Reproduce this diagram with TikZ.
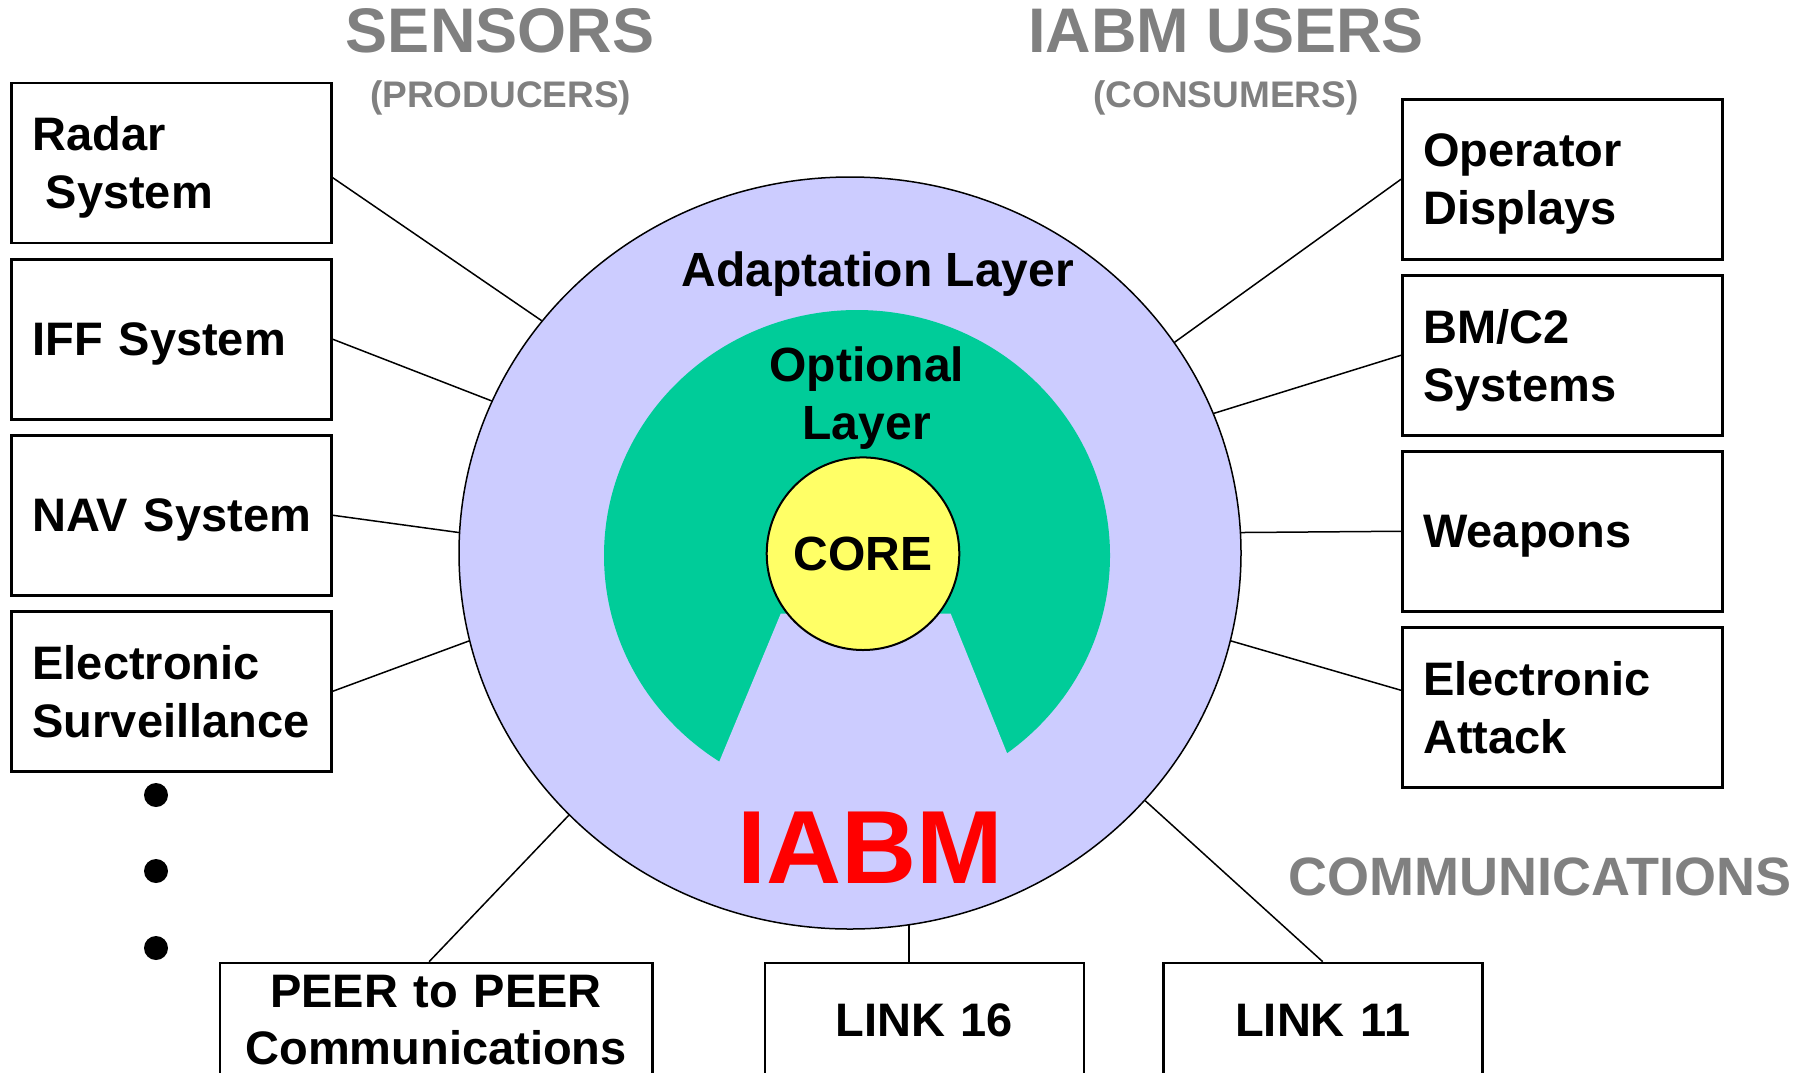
\documentclass[tikz,border=0pt]{standalone}
\usepackage{fontspec}
\setmainfont{Liberation Sans}
\usetikzlibrary{shapes.geometric}
\definecolor{lav}{HTML}{CCCCFF}
\definecolor{grn}{HTML}{00CC99}
\definecolor{yel}{HTML}{FFFF66}
\definecolor{hdr}{HTML}{808080}
\newcommand\myfs[2]{\fontsize{#1}{#2}\selectfont}
\begin{document}
\begin{tikzpicture}[x=1pt,y=-1pt,
  box/.style={draw, line width=2.5pt, minimum width=320pt, minimum height=160pt,
    inner xsep=21pt, inner ysep=0pt, text width=278pt, align=left, text depth=0pt,
    font=\myfs{47}{57.6}\bfseries, anchor=north west},
  two/.style={text depth=57.6pt},
  bbox/.style={box, align=center, minimum height=114pt},
  conn/.style={line width=1.5pt},
  hdr1/.style={text=hdr, font=\myfs{63}{70}\bfseries, anchor=base, inner sep=0pt},
  hdr2/.style={text=hdr, font=\myfs{37}{44}\bfseries, anchor=base, inner sep=0pt},
  lbl/.style={font=\myfs{48}{57.6}\bfseries, inner sep=0pt},
  dot/.style={circle, fill=black, minimum size=24pt, inner sep=0pt}
]
\useasboundingbox (0,0) rectangle (1803,1072);
\clip (0,0) rectangle (1803,1072);

% IABM body
\node[ellipse, draw, fill=lav, line width=1.5pt, minimum width=782pt,
      minimum height=752pt, inner sep=0pt] (iabm) at (850,553) {};
\fill[grn] (857,555.5) ellipse [x radius=253, y radius=245.5];
\fill[lav] (780.7,613.7) -- (950.7,613.7) -- (1034,820) -- (695,820) -- cycle;
\node[circle, draw, fill=yel, line width=2pt, minimum size=192.6pt, inner sep=0pt,
      font=\myfs{48}{57.6}\bfseries] (core) at (863,553.7) {CORE};

\node[lbl, anchor=base] (adapt) at (878,286.7) {Adaptation Layer};
\node[lbl, align=center, anchor=center] (opt) at (866.7,398) {Optional\\Layer};
\node[text=red, font=\myfs{104}{110}\bfseries, anchor=base, inner sep=0pt] (name) at (870,883.3) {IABM};

% headers
\node[hdr1] (sens) at (500,52) {SENSORS};
\node[hdr2] (prod) at (500.8,107) {(PRODUCERS)};
\node[hdr1] (users) at (1226,52) {IABM USERS};
\node[hdr2] (cons) at (1226,107.5) {(CONSUMERS)};
\node[text=hdr, font=\myfs{54}{60}\bfseries, anchor=base, inner sep=0pt] (comm) at (1540,895) {COMMUNICATIONS};

% left boxes
\node[box, two] (radar) at (10.3,81.5) {Radar\\\hspace*{0.28em}System};
\node[box] (iff) at (10.3,258) {IFF System};
\node[box] (nav) at (10.3,434) {\mbox{NAV System}};
\node[box, two] (es) at (10.3,610) {Electronic\\Surveillance};

% right boxes
\node[box, two] (op) at (1401,98) {Operator\\Displays};
\node[box, two] (bm) at (1401,274) {BM/C2\\Systems};
\node[box] (weap) at (1401,450) {Weapons};
\node[box, two] (ea) at (1401,626) {Electronic\\Attack};

% bottom boxes
\node[bbox, two, minimum width=432.3pt, text width=390.3pt] (peer) at (218.7,961.7) {PEER to PEER\\Communications};
\node[bbox, minimum width=319pt, text width=277pt] (l16) at (763.6,961.7) {LINK 16};
\node[bbox, minimum width=319pt, text width=277pt] (l11) at (1162,961.7) {LINK 11};

% dots
\node[dot] (d1) at (156,795) {};
\node[dot] (d2) at (156,871) {};
\node[dot] (d3) at (156,948) {};

% connectors
\draw[conn] ([yshift=-15pt]radar.east) -- (iabm.143);
\draw[conn] (iff.east) -- (iabm.157);
\draw[conn] (nav.east) -- (iabm.177);
\draw[conn] (es.east) -- (iabm.193);
\draw[conn] ([xshift=-7pt]peer.north) -- (iabm.223);
\draw[conn] (iabm.279) -- (iabm.279 |- l16.north);
\draw[conn] (l11.north) -- (iabm.320);
\draw[conn] ([yshift=17pt]ea.west) -- (iabm.347);
\draw[conn] (weap.west) -- (iabm.3);
\draw[conn] (bm.west) -- (iabm.21);
\draw[conn] (op.west) -- (iabm.33);
\end{tikzpicture}
\end{document}
